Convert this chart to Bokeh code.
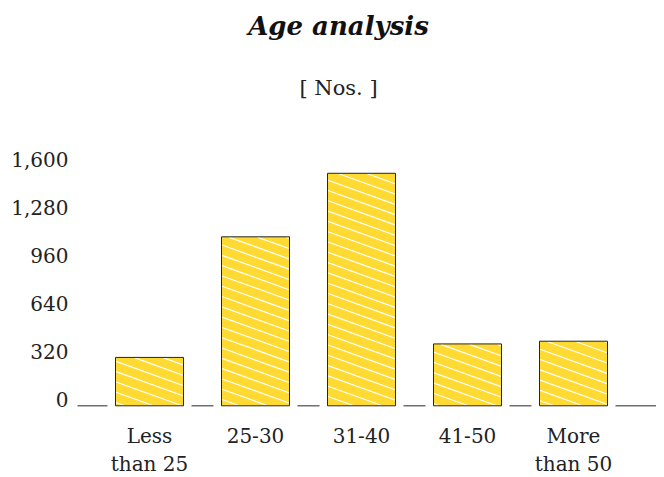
from bokeh.plotting import figure
from bokeh.models import Range1d, ColumnDataSource
from bokeh.core.properties import value
from bokeh.embed import file_html
from bokeh.resources import INLINE

# ---- data ----
categories = ["Less\nthan 25", "25-30", "31-40", "41-50", "More\nthan 50"]
counts = [322, 1125, 1548, 412, 430]
y_ticks = [0, 320, 640, 960, 1280, 1600]
y_tick_labels = ["0", "320", "640", "960", "1,280", "1,600"]
title_text = "Age analysis"
subtitle_text = "[ Nos. ]"

# ---- layout constants (pixels, canvas coords, y down) ----
FONT = "DejaVu Serif"
TXT = "#222222"
W, H = 656, 476
CAT_PX = 106.0          # pixels per category
FIRST_CENTER = 149.0    # px of first category centre
PX_PER_UNIT = 0.1502    # y pixels per count
ZERO_PX = 405.3         # px of zero line
BAR_PX = 68.0
GAP_PX = 8.0
HATCH_SLOPE = 0.36
HATCH_STEP = 10.3


def px_x(px):
    return (px - FIRST_CENTER) / CAT_PX


def px_y(py):
    return (ZERO_PX - py) / PX_PER_UNIT


xs = list(range(len(categories)))

p = figure(frame_width=W, frame_height=H, output_backend="svg", toolbar_location=None,
           x_range=Range1d(px_x(0), px_x(W)), y_range=Range1d(px_y(H), px_y(0)),
           x_axis_location=None, y_axis_location=None,
           min_border=0, tools="")
p.outline_line_color = None
p.grid.visible = False
p.background_fill_color = "white"
p.border_fill_color = "white"

# baseline
p.segment(x0=[px_x(77)], x1=[px_x(W)], y0=[0], y1=[0], line_color="#707070", line_width=1.6)

src = ColumnDataSource(dict(x=xs, top=counts))
# white gaps around bars (interrupt the baseline)
p.vbar(x="x", top="top", bottom=px_y(412), width=(BAR_PX + 2 * GAP_PX) / CAT_PX, source=src,
       fill_color="white", line_color=None)
# bar fill
p.vbar(x="x", top="top", bottom=0, width=BAR_PX / CAT_PX, source=src,
       fill_color="#FFDA33", line_color=None)

# shallow white hatching, derived from each bar's extent
hx0, hx1, hy0, hy1 = [], [], [], []
for i, c in zip(xs, counts):
    cx = FIRST_CENTER + CAT_PX * i
    L, R = cx - BAR_PX / 2 + 0.5, cx + BAR_PX / 2 - 0.5
    T, B = ZERO_PX - c * PX_PER_UNIT + 0.5, ZERO_PX - 0.5
    k0 = int((T - HATCH_SLOPE * R) // HATCH_STEP) - 1
    k1 = int((B - HATCH_SLOPE * L) // HATCH_STEP) + 1
    for k in range(k0, k1 + 1):
        off = k * HATCH_STEP
        xa, xb = L, R
        ya, yb = off + HATCH_SLOPE * xa, off + HATCH_SLOPE * xb
        if ya < T:
            xa = (T - off) / HATCH_SLOPE
            ya = T
        if yb > B:
            xb = (B - off) / HATCH_SLOPE
            yb = B
        if xb - xa < 1 or ya > B or yb < T:
            continue
        hx0.append(px_x(xa)); hx1.append(px_x(xb))
        hy0.append(px_y(ya)); hy1.append(px_y(yb))
p.segment(x0=hx0, x1=hx1, y0=hy0, y1=hy1, line_color="white", line_width=1.2)

# bar outline
p.vbar(x="x", top="top", bottom=0, width=BAR_PX / CAT_PX, source=src,
       fill_color=None, line_color="#262626", line_width=1)

# y tick labels
p.text(x=[px_x(68)] * len(y_ticks), y=[t + 6 / PX_PER_UNIT for t in y_ticks], text=y_tick_labels,
       text_font=value(FONT), text_font_size="20px", text_color=TXT,
       text_align="right", text_baseline="middle")

# x category labels (one row per line)
line1 = [c.split("\n")[0] for c in categories]
line2 = [c.split("\n")[1] if "\n" in c else "" for c in categories]
p.text(x=xs, y=[px_y(435)] * len(xs), text=line1,
       text_font=value(FONT), text_font_size="20px", text_color=TXT,
       text_align="center", text_baseline="middle")
p.text(x=xs, y=[px_y(463)] * len(xs), text=line2,
       text_font=value(FONT), text_font_size="20px", text_color=TXT,
       text_align="center", text_baseline="middle")

# titles
p.text(x=[px_x(338)], y=[px_y(25)], text=[title_text], text_font=value(FONT),
       text_font_style="bold italic", text_font_size="26px", text_color="#111111",
       text_align="center", text_baseline="middle")
p.text(x=[px_x(338)], y=[px_y(87)], text=[subtitle_text], text_font=value(FONT),
       text_font_size="21px", text_color=TXT,
       text_align="center", text_baseline="middle")

open("out.html", "w").write(file_html(p, INLINE))
